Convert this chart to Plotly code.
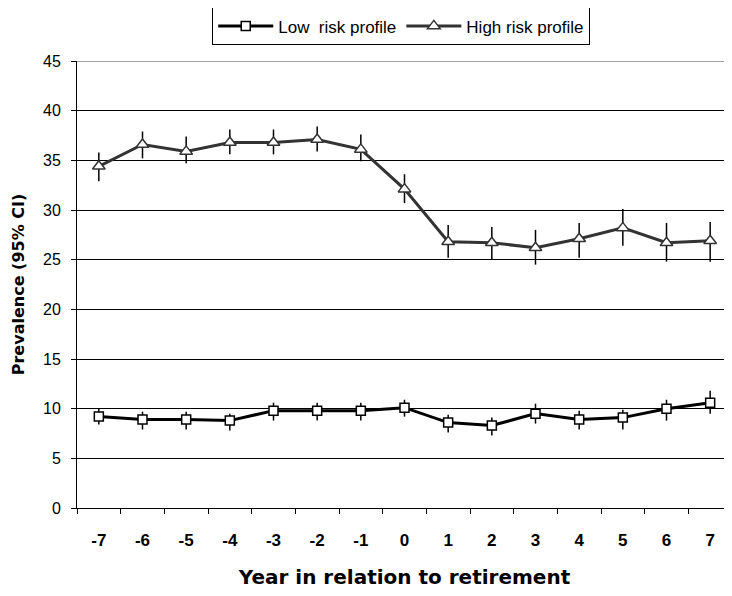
import plotly.graph_objects as go

years = ["-7", "-6", "-5", "-4", "-3", "-2", "-1", "0", "1", "2", "3", "4", "5", "6", "7"]

low_val = [9.2, 8.9, 8.9, 8.8, 9.8, 9.8, 9.8, 10.1, 8.6, 8.3, 9.5, 8.9, 9.1, 10.0, 10.6]
low_hi = [10.0, 9.7, 9.7, 9.5, 10.6, 10.6, 10.6, 10.9, 9.4, 9.1, 10.5, 9.8, 9.9, 10.9, 11.8]
low_lo = [8.4, 7.9, 7.9, 7.8, 8.8, 8.8, 8.8, 9.2, 7.6, 7.3, 8.5, 7.9, 7.9, 8.8, 9.5]

high_val = [34.4, 36.6, 35.9, 36.8, 36.8, 37.1, 36.1, 32.1, 26.8, 26.7, 26.2, 27.1, 28.2, 26.7, 26.9]
high_hi = [35.8, 37.9, 37.4, 38.1, 38.1, 38.4, 37.6, 33.6, 28.5, 28.3, 28.0, 28.7, 30.1, 28.7, 28.8]
high_lo = [32.9, 35.2, 34.7, 35.6, 35.6, 35.9, 34.9, 30.7, 25.2, 25.0, 24.5, 25.2, 26.4, 24.8, 24.8]

y_ticks = [0, 5, 10, 15, 20, 25, 30, 35, 40, 45]

FONT = "Liberation Sans, Arial, sans-serif"
WIDE = "DejaVu Sans, Liberation Sans, sans-serif"

fig = go.Figure()
fig.add_trace(go.Scatter(
    x=years, y=low_val, name="Low  risk profile", mode="lines+markers",
    line=dict(color="#000000", width=3),
    marker=dict(symbol="square", size=9, color="white", line=dict(color="#000000", width=1.5)),
    error_y=dict(type="data", symmetric=False,
                 array=[h - v for h, v in zip(low_hi, low_val)],
                 arrayminus=[v - l for v, l in zip(low_val, low_lo)],
                 color="#000000", thickness=1.5, width=0),
))
fig.add_trace(go.Scatter(
    x=years, y=high_val, name="High risk profile", mode="lines+markers",
    line=dict(color="#333333", width=3),
    marker=dict(symbol="triangle-up", size=11, color="white", line=dict(color="#333333", width=1.5)),
    error_y=dict(type="data", symmetric=False,
                 array=[h - v for h, v in zip(high_hi, high_val)],
                 arrayminus=[v - l for v, l in zip(high_val, high_lo)],
                 color="#000000", thickness=1.5, width=0),
))

# page body has an 8px margin; figure is sized so the plot area lands where the reference has it
fig.update_layout(
    width=724, height=588,
    margin=dict(l=69, r=0, t=53, b=88, autoexpand=False),
    paper_bgcolor="white", plot_bgcolor="white",
    font=dict(family=FONT, color="#000000", size=15),
    showlegend=True,
    legend=dict(orientation="h", x=0.495, xanchor="center", y=1.12, yanchor="top",
                bordercolor="#000000", borderwidth=1, bgcolor="white",
                font=dict(size=17, family=FONT), itemwidth=55, traceorder="normal"),
    xaxis=dict(type="category", categoryorder="array", categoryarray=years,
               range=[-0.5, 14.5], automargin=False,
               tickson="boundaries", ticks="outside", ticklen=5, tickcolor="#000000",
               ticklabelstandoff=17,
               showline=True, linecolor="#000000", linewidth=1,
               showgrid=False, zeroline=False,
               tickfont=dict(size=17, family=FONT, weight="bold"),
               title=dict(text="<b>Year in relation to retirement</b>",
                          font=dict(size=20, family=WIDE), standoff=20)),
    yaxis=dict(range=[0, 45], tickvals=y_ticks, ticks="outside", ticklen=5, tickcolor="#000000",
               ticklabelstandoff=7,
               showline=True, linecolor="#000000", linewidth=1, automargin=False,
               showgrid=True, gridcolor="#000000", gridwidth=1, zeroline=False,
               tickfont=dict(size=16, family=FONT),
               title=dict(text="<b>Prevalence (95% CI)</b>", font=dict(size=16, family=WIDE),
                          standoff=14)),
    shapes=[dict(type="line", xref="paper", yref="y", x0=0, x1=1, y0=45, y1=45,
                 line=dict(color="#808080", width=1.5), layer="above")],
)

fig.write_html("out.html")
